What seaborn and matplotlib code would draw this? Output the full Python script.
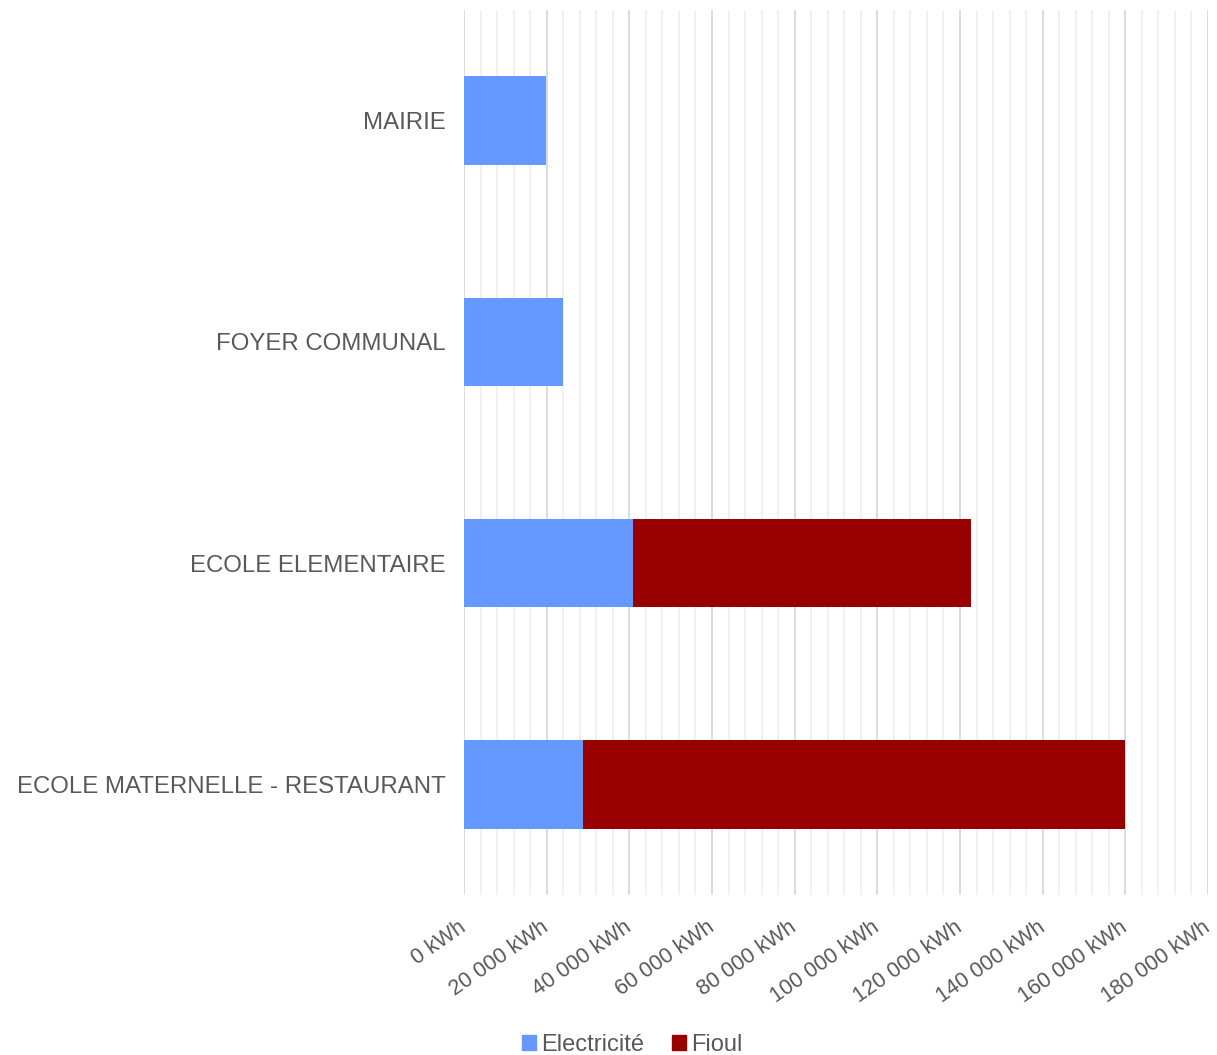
import matplotlib
matplotlib.use("Agg")
import matplotlib.pyplot as plt
import numpy as np
import pandas as pd
import seaborn as sns
from matplotlib.ticker import MultipleLocator, FuncFormatter
from matplotlib.patches import Patch

# ------------------ DATA ------------------
batiments = ["MAIRIE", "FOYER COMMUNAL", "ECOLE ELEMENTAIRE", "ECOLE MATERNELLE - RESTAURANT"]
electricite = [19800, 24000, 41000, 28700]
fioul = [0, 0, 81600, 131200]

df = pd.DataFrame({"batiment": batiments, "Electricité": electricite, "Fioul": fioul})
df["total"] = df["Electricité"] + df["Fioul"]

sns.set_theme(style="white")
plt.rcParams["font.family"] = ["Liberation Sans", "DejaVu Sans"]

fig = plt.figure(figsize=(12.17, 10.55), dpi=100)
ax = fig.add_axes([464 / 1217, 1 - 895 / 1055, (1208 - 464) / 1217, 885 / 1055])

# stacked bars: total first (fioul colour), electricity on top
sns.barplot(data=df, y="batiment", x="total", color="#990000", width=0.4,
            saturation=1, orient="h", ax=ax, zorder=3, linewidth=0)
sns.barplot(data=df, y="batiment", x="Electricité", color="#6699FF", width=0.4,
            saturation=1, orient="h", ax=ax, zorder=4, linewidth=0)

ax.set_xlim(0, 180000)
ax.xaxis.set_major_locator(MultipleLocator(20000))
ax.xaxis.set_minor_locator(MultipleLocator(4000))
ax.xaxis.set_major_formatter(FuncFormatter(lambda v, p: f"{int(v):,} kWh".replace(",", " ")))
ax.grid(axis="x", which="major", color="#D9D9D9", linewidth=1.3, zorder=0)
ax.grid(axis="x", which="minor", color="#F0F0F0", linewidth=1.3, zorder=0)
ax.set_axisbelow(True)
for s in ax.spines.values():
    s.set_visible(False)

ax.set_xlabel("")
ax.set_ylabel("")
ax.tick_params(axis="y", labelsize=17.3, labelcolor="#595959", length=0, pad=13)
ax.tick_params(axis="x", which="both", length=0, labelsize=15.5, labelcolor="#595959", pad=22)
plt.setp(ax.get_xticklabels(), rotation=35, ha="right", va="center", rotation_mode="anchor")

handles = [Patch(color="#6699FF", label="Electricité"), Patch(color="#990000", label="Fioul")]
fig.legend(handles=handles, loc="center", bbox_to_anchor=(632 / 1217, 1 - 1045 / 1055),
           ncol=2, frameon=False, fontsize=17, labelcolor="#595959",
           handlelength=0.6, handleheight=0.6, handletextpad=0.2, columnspacing=1.2)

fig.savefig("out.png", dpi=100)
